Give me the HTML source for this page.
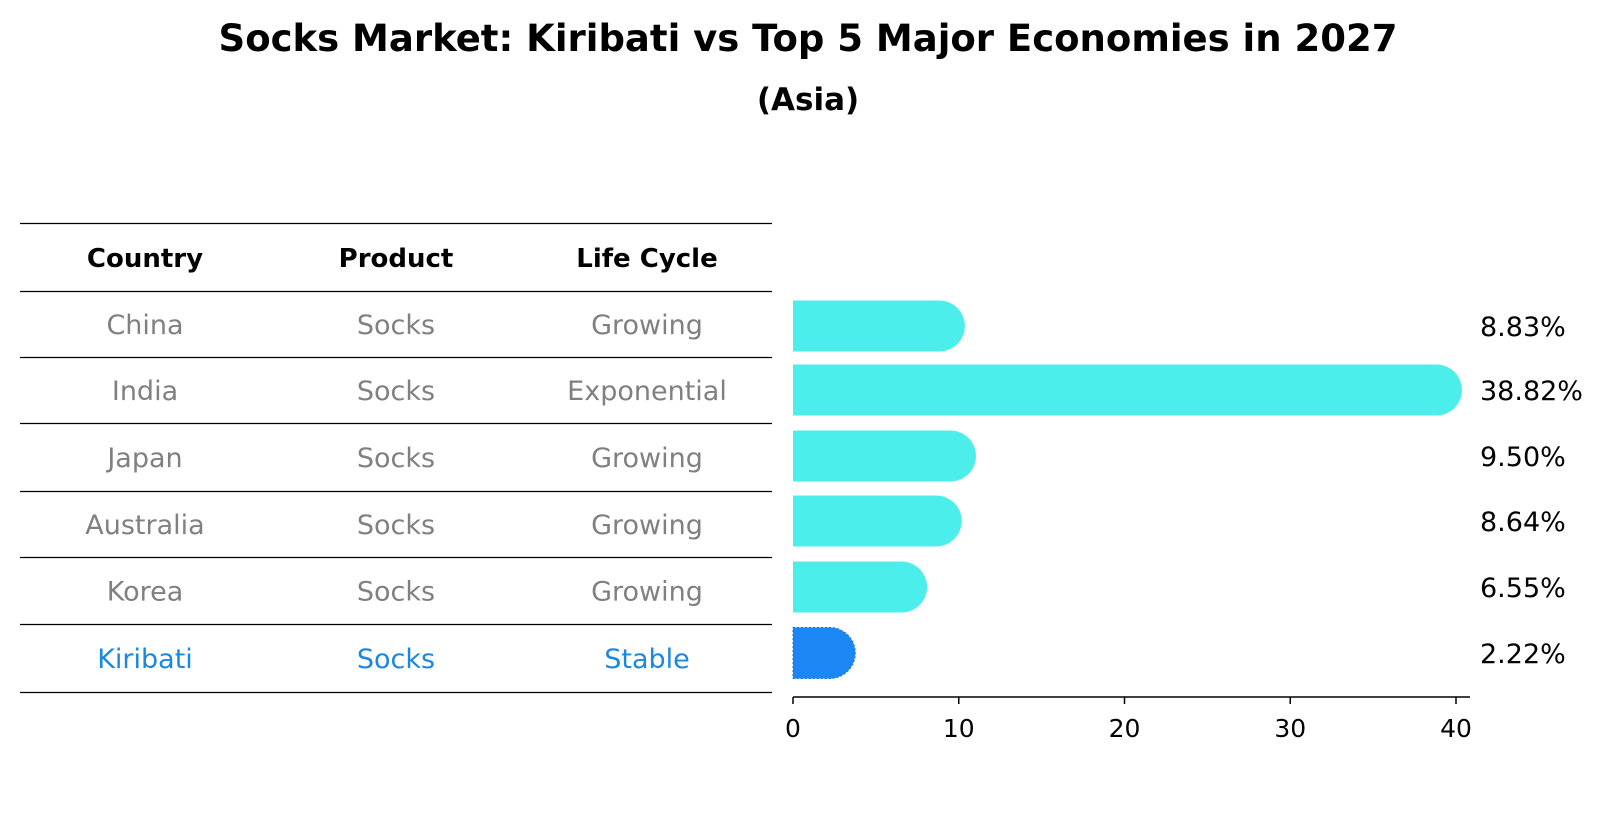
<!DOCTYPE html>
<html><head><meta charset="utf-8"><style>
body{margin:0;background:#fff}
text{font-family:"DejaVu Sans","Liberation Sans",sans-serif}
</style></head><body>
<svg id="c" width="1604" height="823" xmlns="http://www.w3.org/2000/svg">
<text x="808" y="51" text-anchor="middle" font-size="37" font-weight="bold">Socks Market: Kiribati vs Top 5 Major Economies in 2027</text>
<text x="808" y="110" text-anchor="middle" font-size="31" font-weight="bold">(Asia)</text>
<g id="tbl"></g>
<g id="bars"></g>
</svg>
<script>
const countries=["China","India","Japan","Australia","Korea","Kiribati"];
const products=["Socks","Socks","Socks","Socks","Socks","Socks"];
const lifeCycles=["Growing","Exponential","Growing","Growing","Growing","Stable"];
const values=[8.83,38.82,9.50,8.64,6.55,2.22];
const labels=["8.83%","38.82%","9.50%","8.64%","6.55%","2.22%"];
const ticks=[0,10,20,30,40];
const NS="http://www.w3.org/2000/svg";
function mk(p,t,a,txt){const e=document.createElementNS(NS,t);for(const k in a)e.setAttribute(k,a[k]);if(txt!==undefined)e.textContent=txt;p.appendChild(e);return e;}
const tbl=document.getElementById('tbl'),bars=document.getElementById('bars');
const lineY=[223,291,357,423,491,557,624,692];
const colX=[145,396,647];
lineY.forEach((y,i)=>{const l=mk(tbl,'line',{x1:20,x2:772,y1:y+0.5,y2:y+0.5,stroke:'#000','stroke-width':1.2});

});
["Country","Product","Life Cycle"].forEach((h,j)=>{const t=mk(tbl,'text',{x:colX[j],y:267,'text-anchor':'middle','font-size':26,'font-weight':'bold'},h);

});
const x0=793,sc=16.575,rowY=[326,390,456,521,587,653],bh=51;
function xs(v){return x0+v*sc;}
countries.forEach((c,i)=>{
 const col=i===5?'#1a87e0':'#808080';
 [c,products[i],lifeCycles[i]].forEach((v,j)=>{const t=mk(tbl,'text',{x:colX[j],y:(lineY[i+1]+lineY[i+2])/2+10,'text-anchor':'middle','font-size':27,fill:col},v);
 
 });
 const fill=i===5?'#1a87f5':'#4beeea';
 const xe=xs(values[i]),r=bh/2,cy=rowY[i];
 const d=`M${x0},${cy-r} L${xe},${cy-r} A${r},${r} 0 0 1 ${xe},${cy+r} L${x0},${cy+r} Z`;
 const b=mk(bars,'path',{d:d,fill:fill});
 if(i===5){b.setAttribute('stroke','#1a6fe0');b.setAttribute('stroke-dasharray','2,2');b.setAttribute('stroke-width','1');}
 
 
 const t=mk(bars,'text',{x:1480,y:cy+10,'font-size':27},labels[i]);
 
 
});
const ax=mk(bars,'line',{x1:x0,x2:1470,y1:697,y2:697,stroke:'#000','stroke-width':1.5});


ticks.forEach(v=>{const l=mk(bars,'line',{x1:xs(v),x2:xs(v),y1:697,y2:704,stroke:'#000','stroke-width':1.5});


const t=mk(bars,'text',{x:xs(v),y:737,'text-anchor':'middle','font-size':25},v);

});
</script>
</body></html>
